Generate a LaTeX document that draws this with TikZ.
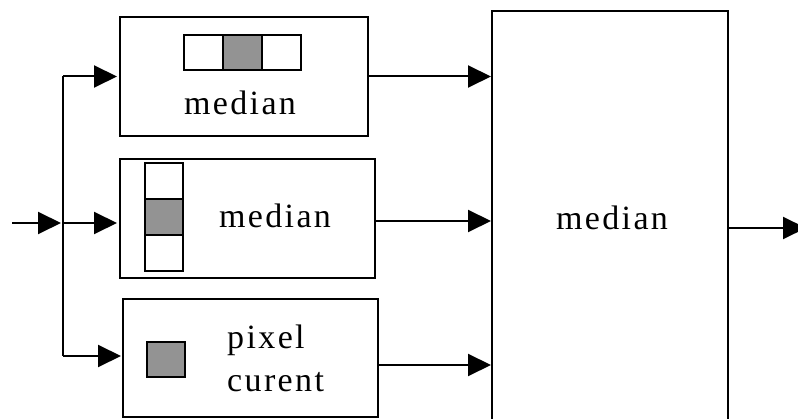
\documentclass[tikz,border=0pt]{standalone}
\usepackage{fontspec}
\usetikzlibrary{arrows.meta}
\newfontfamily\lblfont[LetterSpace=7]{Liberation Serif}
\tikzset{
  blk/.style={draw, line width=2pt, fill=white, inner sep=0pt},
  cellw/.style={draw, line width=2pt, fill=white},
  cellg/.style={draw, line width=2pt, fill=gray!85!white},
  lbl/.style={inner sep=0pt, font=\lblfont\fontsize{34}{43}\selectfont},
  wire/.style={line width=2pt},
  arr/.style={line width=2pt, -{Triangle[length=23pt,width=22pt]}},
}
\begin{document}
\begin{tikzpicture}[x=1pt,y=-1pt]
\useasboundingbox (0,0) rectangle (798,419);
\clip (0,0) rectangle (798,419);

% processing blocks
\node[blk, minimum width=248pt, minimum height=119pt] (b1) at (244,76.5) {};
\node[blk, minimum width=255pt, minimum height=119pt] (b2) at (247.5,218.5) {};
\node[blk, minimum width=255pt, minimum height=118pt] (b3) at (250.5,358) {};
\node[blk, minimum width=236pt, minimum height=440pt] (big) at (610,231) {};

% horizontal window
\draw[cellw] (184,35) rectangle (223,70);
\draw[cellg] (223,35) rectangle (262,70);
\draw[cellw] (262,35) rectangle (301,70);
% vertical window
\draw[cellw] (145,163) rectangle (183,199);
\draw[cellg] (145,199) rectangle (183,235);
\draw[cellw] (145,235) rectangle (183,271);
% current pixel
\draw[cellg] (147,342) rectangle (185,377);

% labels
\node[lbl] (t1) at (240,103) {median};
\node[lbl] (t2) at (275,216) {median};
\node[lbl, anchor=west, align=left] (t3) at (227,358) {pixel\\curent};
\node[lbl] (t4) at (612,218) {median};

% input and fan-out
\coordinate (in) at (12,223);
\coordinate (j) at (63,223);
\coordinate (jt) at (63,76.5);
\coordinate (jb) at (63,356);
\draw[arr, shorten >=2pt] (in) -- (j);
\draw[wire] (jt) -- (jb);
\draw[arr, shorten >=2pt] (jt) -- (b1.west);
\draw[arr, shorten >=2pt] (j) -- (j -| b2.west);
\draw[arr, shorten >=1pt] (jb) -- (jb -| b3.west);

% outputs into the combining block
\coordinate (o2) at (375,221);
\coordinate (o3) at (378,365);
\draw[arr] (b1.east) -- (b1.east -| big.west);
\draw[arr] (o2) -- (o2 -| big.west);
\draw[arr] (o3) -- (o3 -| big.west);

% final output
\coordinate (out) at (806,228);
\draw[arr] (big.east |- out) -- (out);
\end{tikzpicture}
\end{document}
